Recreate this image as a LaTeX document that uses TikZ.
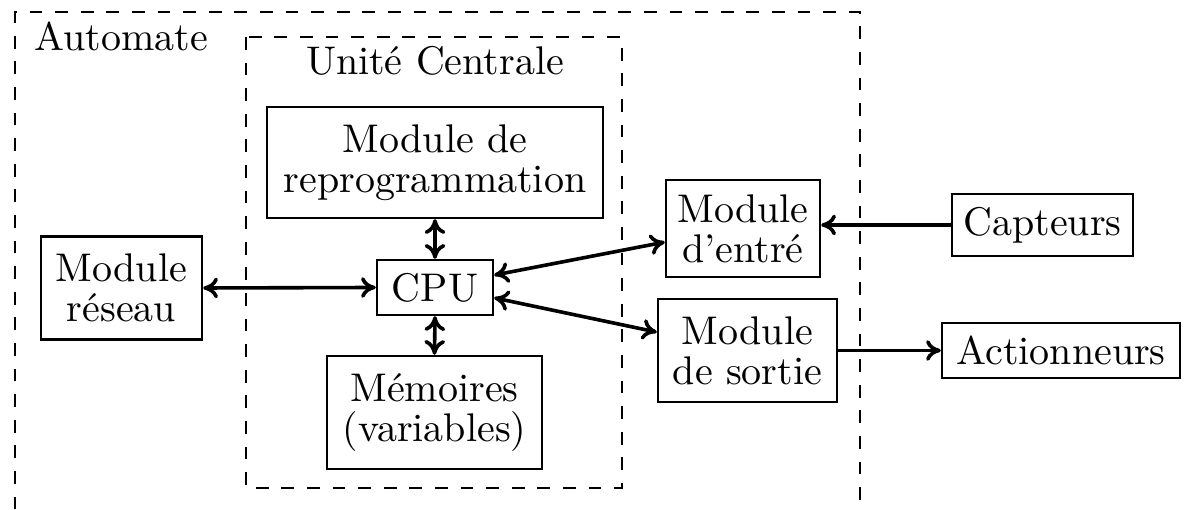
\documentclass[tikz,border=0pt]{standalone}
\usetikzlibrary{calc,arrows.meta}
\begin{document}
\begin{tikzpicture}[x=0.25pt,y=0.25pt,
  blk/.style={draw,line width=0.6pt,inner sep=0pt,align=center,
    font=\fontsize{10}{10}\selectfont},
  frame/.style={line width=0.55pt,dash pattern=on 3.2pt off 3.2pt},
  lbl/.style={inner sep=0pt,anchor=base,font=\fontsize{10}{10}\selectfont},
  link/.style={line width=0.9pt,>={Computer Modern Rightarrow[length=3.7pt,width=5.2pt]}}]
\useasboundingbox (0,0) rectangle (1186,-510);

% enclosures
\draw[frame] (15,-535) -- (15,-12) -- (860,-12) -- (860,-535);
\draw[frame] (246,-37) rectangle (622,-488);
\node[lbl,anchor=base west] (automate) at (34,-51) {Automate};
\node[lbl] (uc) at (435,-75) {Unité Centrale};

% blocks
\node[blk,minimum width=84pt,minimum height=27.75pt] (reprog) at (435,-162.5) {Module de\\reprogrammation};
\node[blk,minimum width=29pt,minimum height=13.75pt] (cpu) at (435,-287.5) {CPU};
\node[blk,minimum width=53.75pt,minimum height=28.25pt] (mem) at (434.5,-412.5) {Mémoires\\(variables)};
\node[blk,minimum width=40.25pt,minimum height=25.75pt] (reseau) at (121.5,-288) {Module\\réseau};
\node[blk,minimum width=38.5pt,minimum height=24.25pt] (entre) at (743,-228.5) {Module\\d’entré};
\node[blk,minimum width=45.25pt,minimum height=15.5pt] (capteurs) at (1042.5,-225) {Capteurs};
\node[blk,minimum width=44.75pt,minimum height=25.75pt] (sortie) at (747.5,-350.5) {Module\\de sortie};
\node[blk,minimum width=59.5pt,minimum height=13.75pt] (action) at (1061,-350.5) {Actionneurs};

% connections
\draw[link,<->] (reprog.south) -- (cpu.north);
\draw[link,<->] (cpu.south) -- (mem.north);
\draw[link,<->] (reseau.east) -- (cpu.west);
\draw[link,<->] ([yshift=3.1pt]cpu.east) -- ([yshift=-3.4pt]entre.west);
\draw[link,<->] ([yshift=-2.6pt]cpu.east) -- ([yshift=4.6pt]sortie.west);
\draw[link,->] (capteurs.west) -- (capteurs.west -| entre.east);
\draw[link,->] (sortie.east) -- (action.west);
\end{tikzpicture}
\end{document}
